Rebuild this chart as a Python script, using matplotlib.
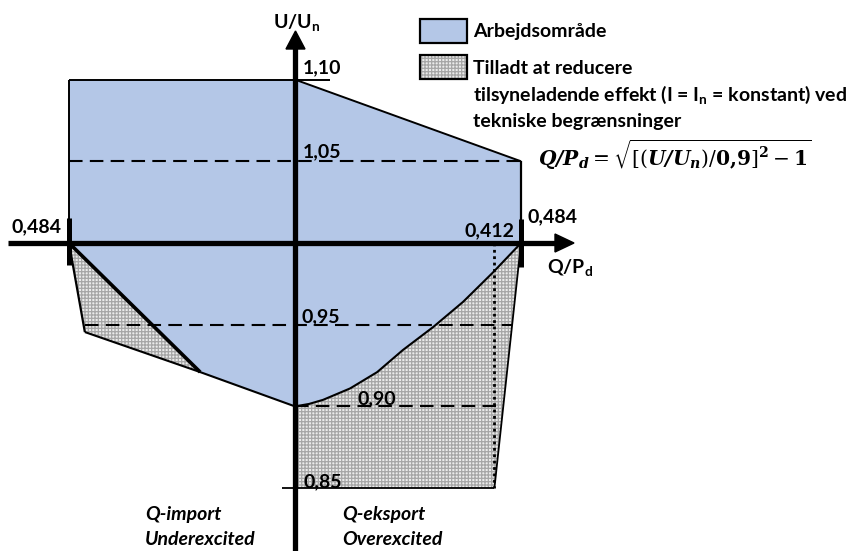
import matplotlib
matplotlib.use("Agg")
import matplotlib.pyplot as plt
from matplotlib.patches import Polygon, Rectangle

plt.rcParams['font.family'] = ['Lato', 'DejaVu Sans']
plt.rcParams['mathtext.fontset'] = 'custom'
plt.rcParams['mathtext.rm'] = 'Lato:bold'
plt.rcParams['mathtext.it'] = 'Lato:bold'
plt.rcParams['mathtext.bf'] = 'Lato:bold'
plt.rcParams['hatch.linewidth'] = 0.9

# ---------------- data ----------------
u_levels = [1.10, 1.05, 0.95, 0.90, 0.85]
u_labels = ["1,10", "1,05", "0,95", "0,90", "0,85"]
q_limit = 0.484          # |Q/Pd| limit
q_corner = 0.427         # drawn position of the 0,412 limit at U=0.85
q_corner_label = "0,412"
q_limit_label = "0,484"

# curve Q/Pd = sqrt[((U/Un)/0.9)^2 - 1]
q_curve = [0.0, 0.030, 0.060, 0.118, 0.176, 0.231, 0.296, 0.360, 0.424, 0.484]
u_curve = [0.900, 0.9015, 0.904, 0.911, 0.921, 0.9345, 0.9486, 0.964, 0.982, 1.000]

# underexcited (import) lower boundary
q_imp = [-0.484, -0.450, -0.203, 0.0]
u_imp = [1.000, 0.9455, 0.921, 0.900]

# upper boundary
q_top = [-0.484, 0.0, 0.484, 0.484]
u_top = [1.10, 1.10, 1.05, 1.00]

# ---------------- figure ----------------
W, H = 849, 551
fig = plt.figure(figsize=(W / 100, H / 100), dpi=100)
ax = fig.add_axes([0, 0, 1, 1])
X0, X1 = -0.6317, 1.1863
Y0, Y1 = 0.81151, 1.14871
ax.set_xlim(X0, X1)
ax.set_ylim(Y0, Y1)
ax.axis('off')


def px(x):
    return X0 + x / W * (X1 - X0)


def py(y):
    return Y1 - y / H * (Y1 - Y0)


BLUE = '#b4c7e7'
HATCH_FACE = '#ebebeb'
HATCH_COL = '#a6a6a6'
HATCH = '+' * 5

# blue working area
blue_pts = list(zip(q_top, u_top))
blue_pts += list(zip(q_curve[::-1], u_curve[::-1]))[1:]
blue_pts += [(q_imp[2], u_imp[2]), (q_imp[0], u_imp[0])]
ax.add_patch(Polygon(blue_pts, closed=True, facecolor=BLUE, edgecolor='none', zorder=1))

# grey hatched areas
tri = [(q_imp[0], u_imp[0]), (q_imp[1], u_imp[1]), (q_imp[2], u_imp[2])]
ax.add_patch(Polygon(tri, closed=True, facecolor=HATCH_FACE, edgecolor=HATCH_COL,
                     hatch=HATCH, lw=0, zorder=1))
right_pts = list(zip(q_curve, u_curve)) + [(q_corner, 0.85), (0.0, 0.85)]
ax.add_patch(Polygon(right_pts, closed=True, facecolor=HATCH_FACE, edgecolor=HATCH_COL,
                     hatch=HATCH, lw=0, zorder=1))

# outlines
k = dict(color='black', zorder=3, solid_capstyle='butt')
ax.plot([q_top[0], px(330)], [1.10, 1.10], lw=1.4, **k)
ax.plot(q_top[1:3], u_top[1:3], lw=1.4, **k)
ax.plot([q_limit, q_limit], [1.05, 1.0], lw=1.6, **k)
ax.plot([-q_limit, -q_limit], [1.10, 1.0], lw=1.4, **k)
ax.plot(q_curve, u_curve, lw=1.5, **k)
ax.plot(q_imp[1:], u_imp[1:], lw=1.5, **k)
ax.plot(q_imp[:2], u_imp[:2], lw=1.6, **k)
ax.plot([q_imp[0], q_imp[2]], [u_imp[0], u_imp[2]], lw=2.6, **k)
ax.plot([q_limit, q_corner], [1.0, 0.85], lw=1.3, **k)
ax.plot([px(282), q_corner], [0.85, 0.85], lw=1.3, **k)

# dashed levels
def right_edge(u):
    return q_corner + (q_limit - q_corner) * (u - 0.85) / 0.15

dk = dict(color='black', lw=1.5, dashes=(6.5, 3.5), zorder=3)
ax.plot([-q_limit, q_limit], [1.05, 1.05], **dk)
ax.plot([q_imp[1], right_edge(0.95)], [0.95, 0.95], **dk)
ax.plot([0.0, right_edge(0.90)], [0.90, 0.90], **dk)
ax.plot([q_corner, q_corner], [1.0, 0.85], color='black', lw=2.0,
        linestyle=(0, (1, 1.3)), zorder=3)

# limit ticks
ax.plot([-q_limit, -q_limit], [py(218), py(265)], lw=3.6, **k)
ax.plot([q_limit, q_limit], [py(219), py(267)], lw=3.6, **k)

# axes with arrows
ax.plot([px(8), px(558)], [1.0, 1.0], color='black', lw=3.8, zorder=4, solid_capstyle='butt')
ax.add_patch(Polygon([(px(574), py(243)), (px(555), py(234)), (px(555), py(252))],
                     closed=True, color='black', zorder=4))
ax.plot([0, 0], [py(551), py(47)], color='black', lw=3.8, zorder=4, solid_capstyle='butt')
ax.add_patch(Polygon([(px(295.5), py(31)), (px(286), py(49)), (px(305), py(49))],
                     closed=True, color='black', zorder=4))

FS = 14
tb = dict(fontsize=FS, fontweight='bold', color='black', zorder=5)

# level labels
lab_pos = {1.10: (303, 73), 1.05: (303, 157), 0.95: (302, 322),
           0.90: (358, 404), 0.85: (303, 487)}
for u, lab in zip(u_levels, u_labels):
    xx, yy = lab_pos[u]
    ax.text(px(xx), py(yy), lab, ha='left', va='baseline', **tb)

ax.text(px(62), py(232), q_limit_label, ha='right', va='baseline', **tb)
ax.text(px(527), py(222), q_limit_label, ha='left', va='baseline', **tb)
ax.text(px(514), py(236), q_corner_label, ha='right', va='baseline', **tb)

ax.text(px(547), py(273), r'Q/P$_\mathrm{d}$', ha='left', va='baseline',
        math_fontfamily='custom', **tb)
ax.text(px(273), py(28), r'U/U$_\mathrm{n}$', ha='left', va='baseline',
        math_fontfamily='custom', **tb)

ti = dict(fontsize=FS, fontweight='bold', fontstyle='italic', color='black', zorder=5)
ax.text(px(145), py(520), 'Q-import', ha='left', va='baseline', **ti)
ax.text(px(145), py(545), 'Underexcited', ha='left', va='baseline', **ti)
ax.text(px(342), py(520), 'Q-eksport', ha='left', va='baseline', **ti)
ax.text(px(342), py(545), 'Overexcited', ha='left', va='baseline', **ti)

# legend
ax.add_patch(Rectangle((px(420), py(43)), px(467) - px(420), py(19) - py(43),
                       facecolor=BLUE, edgecolor='black', lw=1.6, zorder=5))
ax.add_patch(Rectangle((px(420), py(79)), px(467) - px(420), py(55) - py(79),
                       facecolor=HATCH_FACE, edgecolor=HATCH_COL, hatch=HATCH, lw=0, zorder=5))
ax.add_patch(Rectangle((px(420), py(79)), px(467) - px(420), py(55) - py(79),
                       facecolor='none', edgecolor='black', lw=1.6, zorder=6))
ax.text(px(473), py(31), 'Arbejdsområde', ha='left', va='center', **tb)
ax.text(px(473), py(68), 'Tilladt at reducere', ha='left', va='center', **tb)
ax.text(px(473), py(95), r'tilsyneladende effekt (I = I$_\mathrm{n}$ = konstant) ved',
        ha='left', va='center', math_fontfamily='custom', **tb)
ax.text(px(473), py(121), 'tekniske begrænsninger', ha='left', va='center', **tb)
ax.text(px(538), py(155),
        r'$\mathbfit{Q/P_d} = \sqrt{[(\mathbfit{U/U_n})/\mathbf{0{,}9}]^{\mathbf{2}} - \mathbf{1}}$',
        ha='left', va='center', fontsize=14.5, math_fontfamily='dejavuserif', zorder=5)

fig.savefig('out.png', dpi=100)
